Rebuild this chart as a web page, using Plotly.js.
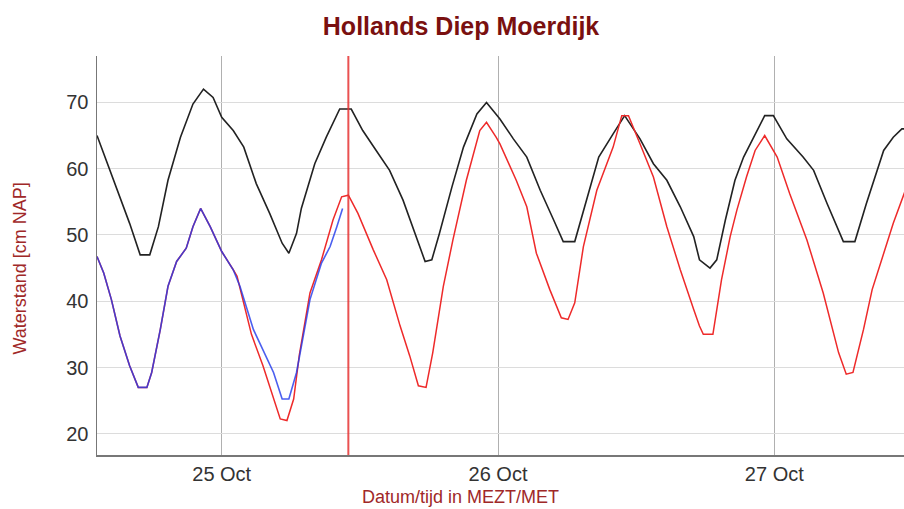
<!DOCTYPE html>
<html>
<head>
<meta charset="utf-8">
<script src="https://cdn.plot.ly/plotly-3.0.1.min.js"></script>
<style>
html,body{margin:0;padding:0;background:#fff;}
#chart{width:904px;height:509px;}
</style>
</head>
<body>
<div id="chart"></div>
<script>
// ---- Data ----
const chartTitle = "Hollands Diep Moerdijk";
const xTitle = "Datum/tijd in MEZT/MET";
const yTitle = "Waterstand [cm NAP]";
const nowTime = "2024-10-25 11:00";

const blackTimes = ["2024-10-24 13:10","2024-10-24 13:45","2024-10-24 14:50","2024-10-24 16:00","2024-10-24 16:55","2024-10-24 17:45","2024-10-24 18:30","2024-10-24 19:20","2024-10-24 20:25","2024-10-24 21:30","2024-10-24 22:25","2024-10-24 23:15",
"2024-10-25 00:00","2024-10-25 01:00","2024-10-25 01:55","2024-10-25 03:00","2024-10-25 04:10","2024-10-25 05:15","2024-10-25 05:50","2024-10-25 06:30","2024-10-25 06:55","2024-10-25 08:05","2024-10-25 09:05","2024-10-25 10:15","2024-10-25 11:15","2024-10-25 12:15","2024-10-25 13:25","2024-10-25 14:35","2024-10-25 15:45","2024-10-25 16:55","2024-10-25 17:40","2024-10-25 18:15","2024-10-25 18:55","2024-10-25 20:00","2024-10-25 21:00","2024-10-25 22:10","2024-10-25 23:00",
"2024-10-26 00:10","2024-10-26 01:20","2024-10-26 02:30","2024-10-26 03:40","2024-10-26 04:50","2024-10-26 05:40","2024-10-26 06:40","2024-10-26 07:40","2024-10-26 08:45","2024-10-26 10:00","2024-10-26 11:00","2024-10-26 12:20","2024-10-26 13:30","2024-10-26 14:40","2024-10-26 15:50","2024-10-26 17:00","2024-10-26 17:30","2024-10-26 18:25","2024-10-26 19:00","2024-10-26 19:45","2024-10-26 20:35","2024-10-26 21:20","2024-10-26 22:20","2024-10-26 23:10","2024-10-26 23:55",
"2024-10-27 01:05","2024-10-27 02:30","2024-10-27 03:25","2024-10-27 04:35","2024-10-27 06:00","2024-10-27 07:00","2024-10-27 08:00","2024-10-27 09:30","2024-10-27 10:20","2024-10-27 11:05","2024-10-27 11:20"];
const blackValues = [65,62.25,57.25,51.75,47,47,51.25,58.25,64.75,69.75,72,70.75,
67.75,65.75,63.25,57.75,53.25,48.75,47.25,50.25,54,60.75,64.75,69,69,65.75,62.75,59.75,55.25,49.75,46,46.25,50.25,57.25,63.25,68.25,70,
67.5,64.5,61.75,56.75,52.25,49,49,55.25,61.75,65.25,68,64.5,60.75,58.25,54.25,49.75,46.25,45,46.25,52.25,58.25,61.75,65.25,68,68,
64.5,61.75,59.75,54.75,49,49,54.75,62.75,64.75,66,66];

const redTimes = ["2024-10-24 13:10","2024-10-24 13:45","2024-10-24 14:25","2024-10-24 15:10","2024-10-24 16:00","2024-10-24 16:45","2024-10-24 17:30","2024-10-24 17:55","2024-10-24 18:40","2024-10-24 19:20","2024-10-24 20:05","2024-10-24 20:55","2024-10-24 21:30","2024-10-24 22:10","2024-10-24 23:00",
"2024-10-25 00:00","2024-10-25 01:00","2024-10-25 01:20","2024-10-25 02:35","2024-10-25 03:35","2024-10-25 05:05","2024-10-25 05:40","2024-10-25 06:15","2024-10-25 06:45","2024-10-25 07:40","2024-10-25 08:40","2024-10-25 09:40","2024-10-25 10:25","2024-10-25 11:00","2024-10-25 11:50","2024-10-25 13:10","2024-10-25 14:20","2024-10-25 15:30","2024-10-25 16:20","2024-10-25 17:05","2024-10-25 17:45","2024-10-25 18:20","2024-10-25 19:15","2024-10-25 20:05","2024-10-25 21:15","2024-10-25 22:25","2024-10-25 23:00","2024-10-25 23:50",
"2024-10-26 00:10","2024-10-26 01:35","2024-10-26 02:30","2024-10-26 03:20","2024-10-26 04:30","2024-10-26 05:30","2024-10-26 06:05","2024-10-26 06:40","2024-10-26 07:25","2024-10-26 08:35","2024-10-26 09:15","2024-10-26 10:00","2024-10-26 10:45","2024-10-26 11:20","2024-10-26 12:20","2024-10-26 13:30","2024-10-26 14:40","2024-10-26 15:50","2024-10-26 17:00","2024-10-26 17:30","2024-10-26 17:50","2024-10-26 18:40","2024-10-26 19:25","2024-10-26 20:10","2024-10-26 20:45","2024-10-26 21:35","2024-10-26 22:20","2024-10-26 23:10",
"2024-10-27 00:15","2024-10-27 01:20","2024-10-27 02:50","2024-10-27 04:15","2024-10-27 05:35","2024-10-27 06:15","2024-10-27 06:50","2024-10-27 07:45","2024-10-27 08:30","2024-10-27 09:30","2024-10-27 10:20","2024-10-27 11:20"];
const redValues = [46.75,44.25,40.25,34.75,30.25,27,27,29.25,35.75,42.25,46,48,51.25,54,51.25,
47.5,44.75,43.75,35,30.25,22.25,22,25.25,32,41.25,46.25,52.25,55.75,56,53.25,47.75,43.25,36.25,31.75,27.25,27,32.25,42.25,49.25,58.25,65.75,67,64.75,
63.75,58.25,54.25,47.25,41.75,37.5,37.25,39.75,48.25,56.75,59.75,63.25,68,68,63.75,58.75,51.25,44.75,38.75,36.25,35,35,43.25,49.75,53.75,58.75,62.75,65,
61.75,56.25,49.25,41.25,32.25,29,29.25,35.75,41.75,47.25,51.75,56.5];

const blueTimes = ["2024-10-24 13:10","2024-10-24 13:45","2024-10-24 14:25","2024-10-24 15:10","2024-10-24 16:00","2024-10-24 16:45","2024-10-24 17:30","2024-10-24 17:55","2024-10-24 18:40","2024-10-24 19:20","2024-10-24 20:05","2024-10-24 20:55","2024-10-24 21:30","2024-10-24 22:10","2024-10-24 23:00",
"2024-10-25 00:00","2024-10-25 01:00","2024-10-25 01:35","2024-10-25 02:45","2024-10-25 03:35","2024-10-25 04:30","2024-10-25 05:15","2024-10-25 05:50","2024-10-25 06:30","2024-10-25 06:45","2024-10-25 07:40","2024-10-25 08:40","2024-10-25 09:25","2024-10-25 10:00","2024-10-25 10:30"];
const blueValues = [46.75,44.25,40.25,34.75,30.25,27,27,29.25,35.75,42.25,46,48,51.25,54,51.25,
47.5,44.75,42.25,35.75,32.75,29.25,25.25,25.25,29.25,31.75,40.25,45.75,48.25,51.25,54];

const xRange = ["2024-10-24 13:10","2024-10-27 11:16"];
const yRange = [16.8, 77];
const yTicks = [20,30,40,50,60,70];

// ---- Traces ----
const traces = [
  {x: blackTimes, y: blackValues, type: "scatter", mode: "lines",
   line: {color: "#222222", width: 1.6}, hoverinfo: "skip"},
  {x: redTimes, y: redValues, type: "scatter", mode: "lines",
   line: {color: "#ee2a2a", width: 1.5}, hoverinfo: "skip"},
  {x: blueTimes, y: blueValues, type: "scatter", mode: "lines",
   line: {color: "rgba(35,60,235,0.82)", width: 1.6}, hoverinfo: "skip"}
];

const layout = {
  width: 904, height: 509,
  margin: {l: 97, r: 0, t: 56, b: 54},
  paper_bgcolor: "#ffffff", plot_bgcolor: "#ffffff",
  showlegend: false,
  font: {family: "Liberation Sans, Arial, sans-serif", color: "#333333"},
  title: {text: "<b>" + chartTitle + "</b>", font: {size: 25, color: "#7a1010", family: "Liberation Sans, Arial, sans-serif"},
          x: 0.51, xref: "container", xanchor: "center", y: 0.949, yref: "container", yanchor: "middle"},
  xaxis: {type: "date", range: xRange, tickformat: "%d %b", dtick: 86400000, tick0: "2024-10-25",
          showgrid: true, gridcolor: "#b0b0b0", gridwidth: 1, zeroline: false,
          showline: true, linecolor: "#777777", linewidth: 1.5, ticks: "", ticklabelstandoff: 0,
          tickfont: {size: 20, color: "#333333"}, fixedrange: true},
  yaxis: {range: yRange, tickvals: yTicks, showgrid: true, gridcolor: "#dcdcdc", gridwidth: 1, zeroline: false,
          showline: true, linecolor: "#777777", linewidth: 1.5, ticks: "", ticklabelstandoff: 3,
          tickfont: {size: 20, color: "#333333"}, fixedrange: true},
  shapes: [{type: "line", xref: "x", yref: "paper", x0: nowTime, x1: nowTime, y0: 0, y1: 1,
            line: {color: "rgba(230,50,50,0.85)", width: 2}}],
  annotations: [
    {text: xTitle, xref: "paper", yref: "paper", x: 0.451, y: -0.1056, xanchor: "center", yanchor: "middle",
     showarrow: false, font: {size: 18, color: "#a02828"}},
    {text: yTitle, xref: "paper", yref: "paper", x: -0.0955, y: 0.467, xanchor: "center", yanchor: "middle",
     textangle: -90, showarrow: false, font: {size: 18, color: "#a02828"}}
  ]
};

Plotly.newPlot("chart", traces, layout, {displayModeBar: false, staticPlot: true});
</script>
</body>
</html>
